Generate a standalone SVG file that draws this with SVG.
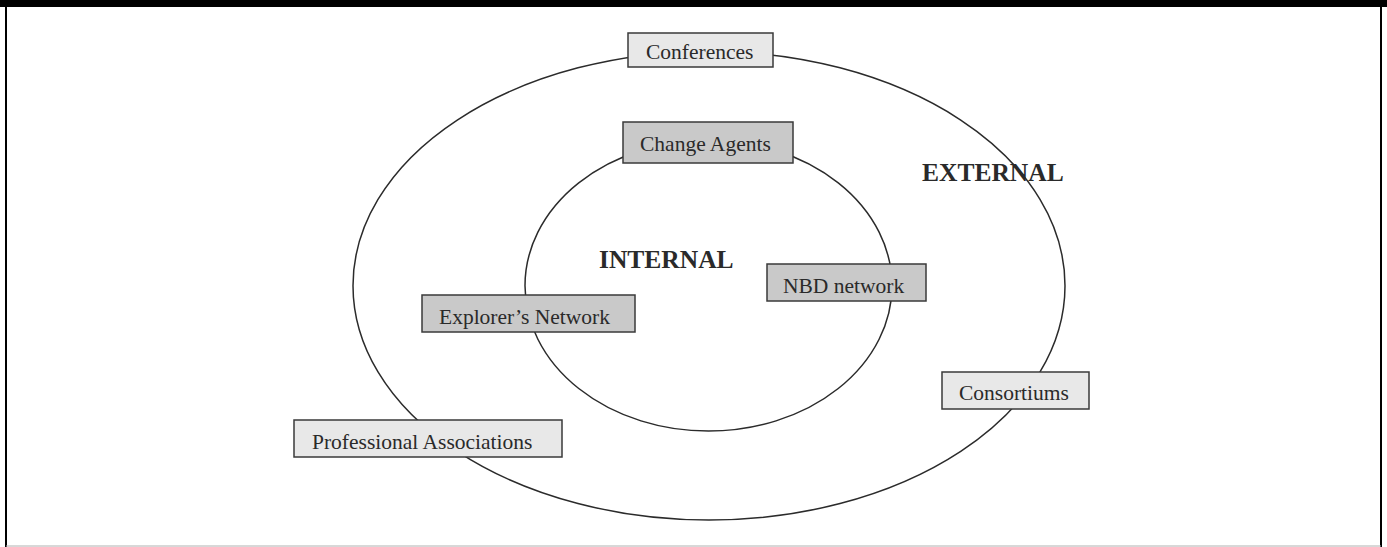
<svg xmlns="http://www.w3.org/2000/svg" width="1387" height="547" viewBox="0 0 1387 547">
<style>
  .ring { fill: none; stroke: #2b2b2b; stroke-width: 1.5; }
  .box { stroke: #3a3a3a; stroke-width: 1.5; }
  .ext { fill: #e8e8e8; }
  .int { fill: #c9c9c9; }
  .lbl { font-family: "Liberation Serif", "Times New Roman", serif; font-size: 21.5px; fill: #2a2a2a; }
  .title { font-family: "Liberation Serif", "Times New Roman", serif; font-size: 25.5px; font-weight: bold; fill: #2a2a2a; }
</style>
<rect x="0" y="0" width="1387" height="547" fill="#ffffff"/>
<rect x="0" y="0" width="1387" height="7" fill="#000000"/>
<line x1="6" y1="7" x2="6" y2="547" stroke="#000" stroke-width="2"/>
<line x1="1381" y1="7" x2="1381" y2="547" stroke="#000" stroke-width="2"/>
<line x1="6" y1="546" x2="1381" y2="546" stroke="#b0b0b0" stroke-width="1"/>
<g id="connectors">
  <ellipse id="external-ring" class="ring" cx="709" cy="285.7" rx="356" ry="234.3"/>
  <ellipse id="internal-ring" class="ring" cx="708.5" cy="285.7" rx="183.5" ry="145.4"/>
</g>
<g id="label-external"><text class="title" x="922" y="181">EXTERNAL</text></g>
<g id="label-internal"><text class="title" x="599" y="268">INTERNAL</text></g>
<g id="conferences">
  <rect class="box ext" x="628" y="33" width="145" height="34"/>
  <text class="lbl" x="646" y="59">Conferences</text>
</g>
<g id="change-agents">
  <rect class="box int" x="623" y="122" width="170" height="41"/>
  <text class="lbl" x="640" y="151">Change Agents</text>
</g>
<g id="nbd-network">
  <rect class="box int" x="767" y="264" width="159" height="37"/>
  <text class="lbl" x="783" y="293">NBD network</text>
</g>
<g id="explorers-network">
  <rect class="box int" x="422" y="295" width="213" height="37"/>
  <text class="lbl" x="439" y="324">Explorer’s Network</text>
</g>
<g id="consortiums">
  <rect class="box ext" x="942" y="372" width="147" height="37"/>
  <text class="lbl" x="959" y="400">Consortiums</text>
</g>
<g id="professional-associations">
  <rect class="box ext" x="294" y="420" width="268" height="37"/>
  <text class="lbl" x="312" y="449">Professional Associations</text>
</g>
</svg>
